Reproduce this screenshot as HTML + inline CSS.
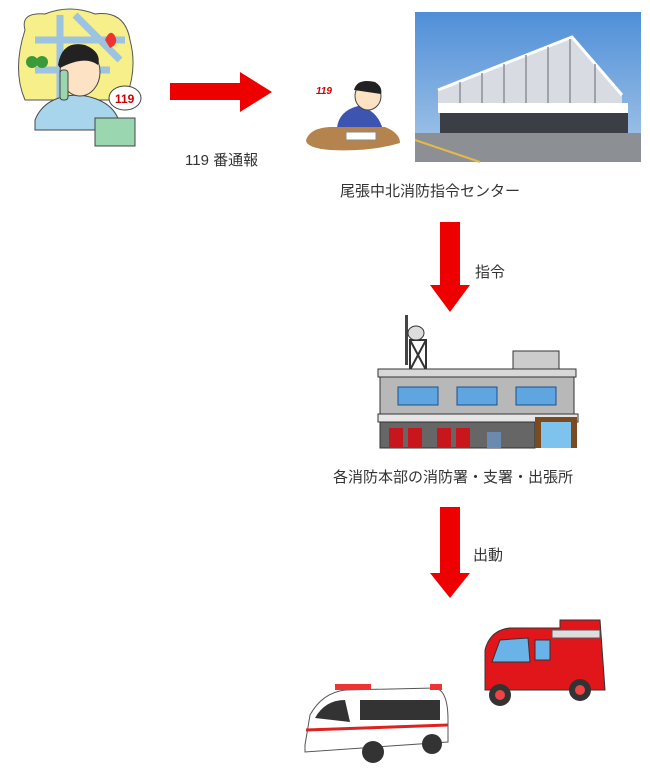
<!DOCTYPE html>
<html><head><meta charset="utf-8"><style>
body{margin:0;width:650px;height:781px;background:#fff;position:relative;overflow:hidden;font-family:"Liberation Sans","Noto Sans CJK JP",sans-serif;}
.t{position:absolute;font-size:15px;color:#333;white-space:nowrap;}
svg{position:absolute;left:0;top:0}
</style></head><body>
<svg width="650" height="781" viewBox="0 0 650 781">
<!-- caller illustration -->
<path d="M25,30 Q20,12 45,14 Q70,4 95,14 Q125,10 130,40 Q138,70 125,100 L25,100 Q12,70 25,30Z" fill="#f7ef8a" stroke="#555"/>
<path d="M35,40 L125,40 M60,15 L60,100 M35,70 L110,70 M75,15 L120,60" stroke="#9cc3e0" stroke-width="7" fill="none"/>
<circle cx="32" cy="62" r="6" fill="#3a9a3a"/><circle cx="42" cy="62" r="6" fill="#3a9a3a"/>
<path d="M105,40 q5,-12 10,-4 q4,8 -5,12z" fill="#e33"/>
<path d="M35,120 Q45,95 80,95 Q115,100 120,125 L120,130 L35,130Z" fill="#a8d4ec" stroke="#444"/>
<ellipse cx="80" cy="72" rx="20" ry="24" fill="#fde3c4" stroke="#444"/>
<path d="M58,65 Q62,40 85,45 Q102,52 98,65 Q85,55 60,68Z" fill="#222"/>
<rect x="60" y="70" width="8" height="30" rx="3" fill="#9ad6b0" stroke="#444"/>
<ellipse cx="125" cy="98" rx="16" ry="12" fill="#fff" stroke="#444"/>
<text x="115" y="103" font-size="12" fill="#c00" font-weight="bold" font-family="Liberation Sans">119</text>
<rect x="95" y="118" width="40" height="28" fill="#9ad6b0" stroke="#444"/>
<!-- arrow right -->
<polygon points="170,83 240,83 240,72 272,92 240,112 240,100 170,100" fill="#ee0000"/>
<!-- operator -->
<path d="M337,135 Q335,112 358,106 Q380,110 384,135Z" fill="#3d55b0"/>
<path d="M306,140 Q310,128 330,127 L385,127 Q400,133 400,143 Q370,152 330,150 Q306,148 306,140Z" fill="#b5834e"/>
<ellipse cx="368" cy="96" rx="13" ry="14" fill="#fde3c4" stroke="#444"/>
<path d="M354,90 Q357,78 375,82 Q383,87 381,94Z" fill="#222"/>
<rect x="346" y="132" width="30" height="8" fill="#fff" stroke="#888"/>
<text x="316" y="94" font-size="10" fill="#c00" font-weight="bold" font-style="italic" font-family="Liberation Sans">119</text>
<!-- photo -->
<defs><linearGradient id="sky" x1="0" y1="0" x2="0" y2="1"><stop offset="0" stop-color="#4f8fd8"/><stop offset="1" stop-color="#a9c8e8"/></linearGradient></defs>
<rect x="415" y="12" width="226" height="150" fill="url(#sky)"/>
<polygon points="438,90 572,37 622,95 622,105 438,105" fill="#d8dce2"/>
<polyline points="438,90 572,37 622,95" fill="none" stroke="#fff" stroke-width="3"/>
<g stroke="#8a9098" stroke-width="1.5"><line x1="460" y1="82" x2="460" y2="104"/><line x1="482" y1="73" x2="482" y2="104"/><line x1="504" y1="64" x2="504" y2="104"/><line x1="526" y1="55" x2="526" y2="104"/><line x1="548" y1="47" x2="548" y2="104"/><line x1="570" y1="39" x2="570" y2="104"/><line x1="595" y1="64" x2="595" y2="104"/></g>
<rect x="438" y="103" width="190" height="10" fill="#fff"/>
<rect x="440" y="113" width="188" height="22" fill="#3b3e44"/>
<rect x="415" y="133" width="226" height="29" fill="#8c8f94"/>
<line x1="415" y1="140" x2="480" y2="162" stroke="#e3b94a" stroke-width="2"/>
<!-- down arrows -->
<polygon points="440,222 460,222 460,285 470,285 450,312 430,285 440,285" fill="#ee0000"/>
<polygon points="440,507 460,507 460,573 470,573 450,598 430,573 440,573" fill="#ee0000"/>
<!-- fire station -->
<rect x="405" y="315" width="3" height="50" fill="#444"/>
<rect x="410" y="340" width="16" height="30" fill="none" stroke="#333" stroke-width="2"/>
<path d="M410,340 L426,370 M426,340 L410,370" stroke="#333" stroke-width="2"/>
<ellipse cx="416" cy="333" rx="8" ry="7" fill="#ddd" stroke="#333"/>
<rect x="513" y="351" width="46" height="18" fill="#ccc" stroke="#333"/>
<rect x="378" y="369" width="198" height="8" fill="#d8d8d8" stroke="#333"/>
<rect x="380" y="377" width="194" height="37" fill="#b8b8b8" stroke="#333"/>
<g fill="#5fa6e0" stroke="#1b4f8a"><rect x="398" y="387" width="40" height="18"/><rect x="457" y="387" width="40" height="18"/><rect x="516" y="387" width="40" height="18"/></g>
<rect x="378" y="414" width="200" height="8" fill="#e5e5e5" stroke="#333"/>
<rect x="380" y="422" width="155" height="26" fill="#666" stroke="#333"/>
<g fill="#c8161d"><rect x="389" y="428" width="14" height="20"/><rect x="408" y="428" width="14" height="20"/><rect x="437" y="428" width="14" height="20"/><rect x="456" y="428" width="14" height="20"/></g>
<rect x="487" y="432" width="14" height="16" fill="#6a8ab0"/>
<rect x="535" y="417" width="42" height="31" fill="#7a4a20"/>
<rect x="541" y="422" width="30" height="26" fill="#7dc3ee"/>
<!-- fire truck -->
<path d="M485,690 L485,650 Q490,630 510,628 L560,628 L560,620 L600,620 L605,690Z" fill="#e0161a" stroke="#333"/>
<path d="M492,662 L500,640 L528,638 L530,662Z" fill="#6ab3e8" stroke="#333"/>
<rect x="535" y="640" width="15" height="20" fill="#6ab3e8" stroke="#333"/>
<rect x="552" y="630" width="48" height="8" fill="#ddd" stroke="#555"/>
<circle cx="500" cy="695" r="11" fill="#333"/><circle cx="580" cy="690" r="11" fill="#333"/>
<circle cx="500" cy="695" r="5" fill="#e44"/><circle cx="580" cy="690" r="5" fill="#e44"/>
<!-- ambulance -->
<path d="M305,745 L310,715 Q322,693 345,690 L435,688 Q448,690 448,720 L448,742 L305,752Z" fill="#fff" stroke="#555"/>
<rect x="335" y="684" width="36" height="6" fill="#e33"/><rect x="430" y="684" width="12" height="6" fill="#e33"/>
<path d="M315,718 Q325,700 345,700 L350,722Z" fill="#333"/>
<rect x="360" y="700" width="80" height="20" fill="#333"/>
<line x1="306" y1="730" x2="448" y2="725" stroke="#d22" stroke-width="3"/>
<circle cx="373" cy="752" r="11" fill="#333"/><circle cx="432" cy="744" r="10" fill="#333"/>
</svg>
<div class="t" style="left:185px;top:149px;">119 番通報</div>
<div class="t" style="left:340px;top:180px;">尾張中北消防指令センター</div>
<div class="t" style="left:475px;top:261px;">指令</div>
<div class="t" style="left:333px;top:466px;">各消防本部の消防署・支署・出張所</div>
<div class="t" style="left:473px;top:544px;">出動</div>
</body></html>
